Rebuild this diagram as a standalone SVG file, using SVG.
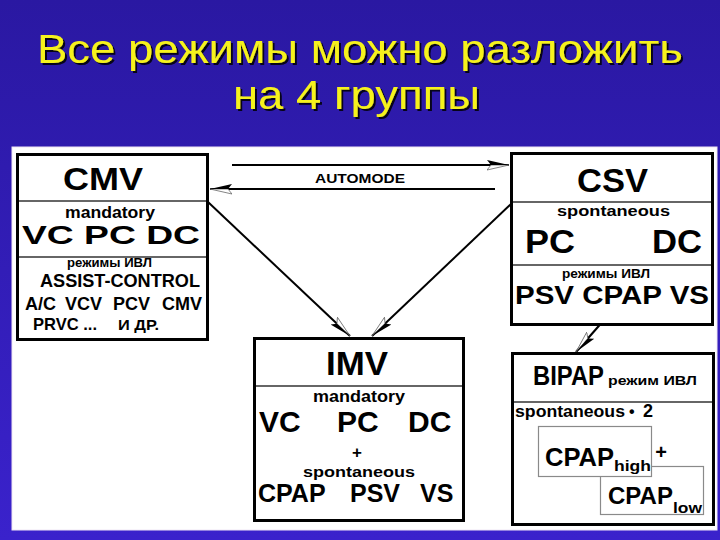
<svg xmlns="http://www.w3.org/2000/svg" width="720" height="540" viewBox="0 0 720 540">
<defs>
<linearGradient id="bg" x1="0" y1="0" x2="0" y2="1">
<stop offset="0" stop-color="#2a18a2"/>
<stop offset="1" stop-color="#3a22cc"/>
</linearGradient>
<filter id="sh" x="-5%" y="-20%" width="110%" height="140%">
<feDropShadow dx="2" dy="2" stdDeviation="0.6" flood-color="#000" flood-opacity="0.85"/>
</filter>
<marker id="ahA" viewBox="0 -6 22 12" markerWidth="22" markerHeight="12" refX="22" refY="0" orient="auto" markerUnits="userSpaceOnUse">
<polygon points="22,0 0,-5 4,0" fill="#fff" stroke="#666" stroke-width="0.8"/>
<polygon points="22,0 0,5 4,0" fill="#000"/>
</marker>
<marker id="ahB" viewBox="0 -6 22 12" markerWidth="22" markerHeight="12" refX="22" refY="0" orient="auto" markerUnits="userSpaceOnUse">
<polygon points="22,0 0,5 4,0" fill="#fff" stroke="#666" stroke-width="0.8"/>
<polygon points="22,0 0,-5 4,0" fill="#000"/>
</marker>
</defs>
<style>
text{font-family:"Liberation Sans",Arial,"DejaVu Sans",sans-serif;fill:#000;font-weight:bold}
.title{fill:#f6f21e;font-weight:normal;font-size:41px;filter:url(#sh)}
.box{fill:#fff;stroke:#000;stroke-width:3}
.div{stroke:#333;stroke-width:1.5}
.inner{fill:#fff;stroke:#8a8a8a;stroke-width:1.2}
.conn{stroke:#000;stroke-width:2;fill:none}
.m{text-anchor:middle}
</style>
<rect x="0" y="0" width="720" height="540" fill="url(#bg)"/>
<text class="title m" x="360" y="63" textLength="646" lengthAdjust="spacingAndGlyphs">Все режимы можно разложить</text>
<text class="title m" x="356.5" y="109" textLength="247" lengthAdjust="spacingAndGlyphs">на 4 группы</text>
<rect x="12" y="147" width="705" height="383" fill="#fff" stroke="#efe6f4" stroke-width="1"/>

<g id="connectors">
<line class="conn" x1="232" y1="165" x2="509" y2="165" marker-end="url(#ahB)"/>
<line class="conn" x1="495" y1="189" x2="210" y2="189" marker-end="url(#ahA)"/>
<text class="m" x="360" y="183" font-size="13" textLength="90" lengthAdjust="spacingAndGlyphs">AUTOMODE</text>
<line class="conn" x1="208" y1="202" x2="350" y2="336" marker-end="url(#ahA)"/>
<line class="conn" x1="511" y1="204" x2="372" y2="336" marker-end="url(#ahB)"/>
<line class="conn" x1="618" y1="304" x2="576" y2="352" marker-end="url(#ahB)"/>
</g>

<g id="cmv">
<rect class="box" x="17.5" y="154.5" width="190" height="185"/>
<line class="div" x1="19" y1="201" x2="206" y2="201"/>
<line class="div" x1="19" y1="257" x2="206" y2="257"/>
<text class="m" x="103" y="190" font-size="31" textLength="80" lengthAdjust="spacingAndGlyphs">CMV</text>
<text class="m" x="110" y="218" font-size="16" textLength="90" lengthAdjust="spacingAndGlyphs">mandatory</text>
<text class="m" x="111" y="244" font-size="26" textLength="178" lengthAdjust="spacingAndGlyphs">VC PC DC</text>
<text class="m" x="109.5" y="267" font-size="13" textLength="85" lengthAdjust="spacingAndGlyphs">режимы ИВЛ</text>
<text class="m" x="120" y="287" font-size="19" textLength="160" lengthAdjust="spacingAndGlyphs">ASSIST-CONTROL</text>
<text y="310" font-size="18"><tspan x="25">A/C</tspan><tspan x="65">VCV</tspan><tspan x="113">PCV</tspan><tspan x="162">CMV</tspan></text>
<text x="33" y="330" font-size="17" textLength="64" lengthAdjust="spacingAndGlyphs">PRVC ...</text>
<text x="118" y="330" font-size="14" textLength="41" lengthAdjust="spacingAndGlyphs">И ДР.</text>
</g>

<g id="csv">
<rect class="box" x="511.5" y="153.5" width="201" height="171"/>
<line class="div" x1="513" y1="202" x2="711" y2="202"/>
<line class="div" x1="513" y1="265" x2="711" y2="265"/>
<text class="m" x="612.5" y="192" font-size="33" textLength="71" lengthAdjust="spacingAndGlyphs">CSV</text>
<text class="m" x="613.5" y="216" font-size="15" textLength="113" lengthAdjust="spacingAndGlyphs">spontaneous</text>
<text x="525" y="253" font-size="33" textLength="50" lengthAdjust="spacingAndGlyphs">PC</text>
<text x="652" y="253" font-size="33" textLength="50" lengthAdjust="spacingAndGlyphs">DC</text>
<text class="m" x="606" y="278" font-size="13" textLength="88" lengthAdjust="spacingAndGlyphs">режимы ИВЛ</text>
<text class="m" x="612" y="304" font-size="26" textLength="194" lengthAdjust="spacingAndGlyphs">PSV CPAP VS</text>
</g>

<g id="imv">
<rect class="box" x="254.5" y="338.5" width="209" height="182"/>
<line class="div" x1="256" y1="386" x2="462" y2="386"/>
<text class="m" x="357" y="375" font-size="33" textLength="62" lengthAdjust="spacingAndGlyphs">IMV</text>
<text class="m" x="359" y="402" font-size="16" textLength="92" lengthAdjust="spacingAndGlyphs">mandatory</text>
<text y="432" font-size="30"><tspan x="259">VC</tspan><tspan x="337">PC</tspan><tspan x="408">DC</tspan></text>
<text class="m" x="357" y="458" font-size="17">+</text>
<text class="m" x="359" y="477" font-size="15" textLength="112" lengthAdjust="spacingAndGlyphs">spontaneous</text>
<text y="502" font-size="25"><tspan x="258">CPAP</tspan><tspan x="350">PSV</tspan><tspan x="420">VS</tspan></text>
</g>

<g id="bipap">
<rect class="box" x="512.5" y="353.5" width="201" height="171"/>
<line class="div" x1="514" y1="402" x2="712" y2="402"/>
<text x="533" y="385" font-size="27" textLength="71" lengthAdjust="spacingAndGlyphs">BIPAP</text>
<text x="608" y="385" font-size="13" textLength="89" lengthAdjust="spacingAndGlyphs">режим ИВЛ</text>
<text x="515" y="417" font-size="16" textLength="110" lengthAdjust="spacingAndGlyphs">spontaneous</text>
<text x="629" y="417" font-size="16">•</text>
<text x="643" y="417" font-size="18">2</text>
<rect class="inner" x="600.5" y="466.5" width="103" height="48"/>
<rect class="inner" x="538.5" y="426.5" width="113" height="50"/>
<text x="545" y="466" font-size="25" textLength="69" lengthAdjust="spacingAndGlyphs">CPAP</text>
<text x="614" y="471" font-size="14" textLength="37" lengthAdjust="spacingAndGlyphs">high</text>
<text class="m" x="661" y="459" font-size="20">+</text>
<text x="608" y="504" font-size="24" textLength="65" lengthAdjust="spacingAndGlyphs">CPAP</text>
<text x="673" y="513" font-size="14" textLength="29" lengthAdjust="spacingAndGlyphs">low</text>
</g>
</svg>
